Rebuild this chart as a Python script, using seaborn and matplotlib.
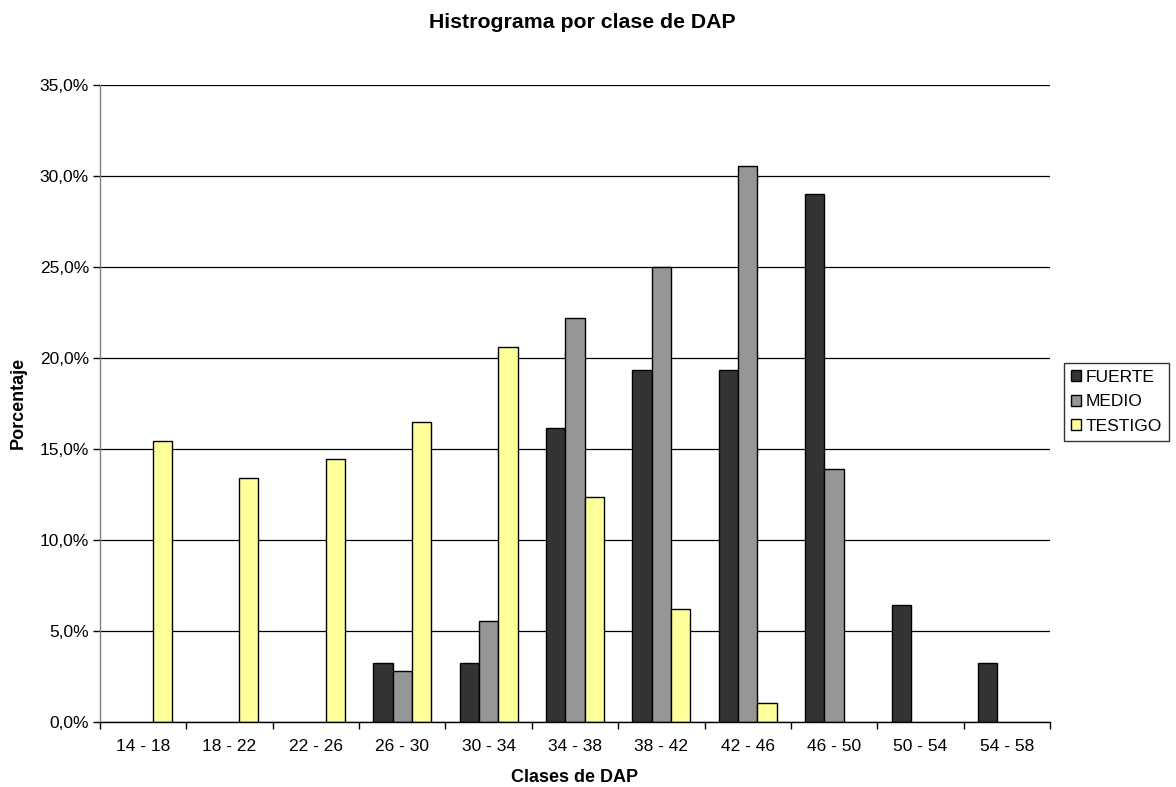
import numpy as np
import pandas as pd
import matplotlib
matplotlib.use("Agg")
import matplotlib.pyplot as plt
import seaborn as sns
from matplotlib.ticker import FixedLocator, FuncFormatter
from matplotlib.patches import Patch

# DAP classes and percentage per treatment
clases = ["14 - 18", "18 - 22", "22 - 26", "26 - 30", "30 - 34", "34 - 38",
          "38 - 42", "42 - 46", "46 - 50", "50 - 54", "54 - 58"]
fuerte = [0.0, 0.0, 0.0, 3.23, 3.23, 16.13, 19.35, 19.35, 29.03, 6.45, 3.23]
medio = [0.0, 0.0, 0.0, 2.78, 5.56, 22.22, 25.00, 30.56, 13.89, 0.0, 0.0]
testigo = [15.46, 13.40, 14.43, 16.49, 20.62, 12.37, 6.19, 1.03, 0.0, 0.0, 0.0]
series = ["FUERTE", "MEDIO", "TESTIGO"]
colores = ["#333333", "#969696", "#FFFF99"]

df = pd.DataFrame({
    "Clase": clases * 3,
    "Serie": [s for s in series for _ in clases],
    "Porcentaje": fuerte + medio + testigo,
})

sns.set_theme(style="white")
plt.rcParams["font.family"] = ["Liberation Sans", "DejaVu Sans"]
plt.rcParams["text.color"] = "black"
plt.rcParams["axes.labelcolor"] = "black"
plt.rcParams["xtick.color"] = "black"
plt.rcParams["ytick.color"] = "black"

W, H = 1176, 787
fig = plt.figure(figsize=(W / 100, H / 100), dpi=100)
ax = fig.add_axes([100 / W, 1 - 722 / H, 950 / W, 637 / H])

sns.barplot(data=df, x="Clase", y="Porcentaje", hue="Serie", order=clases,
            hue_order=series, palette=colores, width=0.67, ax=ax,
            edgecolor="black", linewidth=1.0, saturation=1, legend=False)

# empty classes get no outline
for p in ax.patches:
    if p.get_height() == 0:
        p.set_linewidth(0)

ax.set_ylim(0, 35)
ax.set_xlim(-0.5, len(clases) - 0.5)
ax.yaxis.set_major_locator(FixedLocator(np.arange(0, 35.1, 5)))
ax.yaxis.set_major_formatter(FuncFormatter(lambda v, p: f"{v:.1f}%".replace(".", ",")))
ax.yaxis.grid(True, color="black", linewidth=0.9)
ax.set_axisbelow(True)

ax.xaxis.set_minor_locator(FixedLocator(np.arange(-0.5, len(clases), 1)))
ax.tick_params(axis="x", which="major", length=0, labelsize=12.5, pad=12, colors="black")
ax.tick_params(axis="x", which="minor", length=5, width=1, color="black", direction="out")
ax.tick_params(axis="y", which="major", length=5, width=1, color="black",
               direction="out", labelsize=12.5, pad=3, labelcolor="black")
ax.tick_params(left=True, bottom=False)
ax.xaxis.set_tick_params(which="minor", bottom=True)

for s in ["top", "right"]:
    ax.spines[s].set_visible(False)
ax.spines["left"].set_color("#808080")
ax.spines["left"].set_linewidth(1)
ax.spines["bottom"].set_color("black")
ax.spines["bottom"].set_linewidth(1)

ax.set_xlabel("")
ax.set_ylabel("")
fig.text(575 / W, 1 - 778 / H, "Clases de DAP", ha="center", va="center",
         fontsize=13, fontweight="bold", color="black")
fig.text(18 / W, 1 - 403 / H, "Porcentaje", ha="center", va="center",
         rotation=90, fontsize=13, fontweight="bold", color="black")
fig.text(582 / W, 1 - 22 / H, "Histrograma por clase de DAP", ha="center",
         va="center", fontsize=15.3, fontweight="bold", color="black")

handles = [Patch(facecolor=c, edgecolor="black", linewidth=1.0) for c in colores]
leg = fig.legend(handles, series, loc="upper left",
                 bbox_to_anchor=(1064 / W, 1 - 363 / H), frameon=True,
                 fancybox=False, edgecolor="black", fontsize=12.5,
                 handlelength=0.6, handleheight=0.6, handletextpad=0.25,
                 borderpad=0.4, labelspacing=0.55, borderaxespad=0)
leg.get_frame().set_linewidth(1)
for t in leg.get_texts():
    t.set_color("black")

fig.savefig("out.png", dpi=100, facecolor="white")
